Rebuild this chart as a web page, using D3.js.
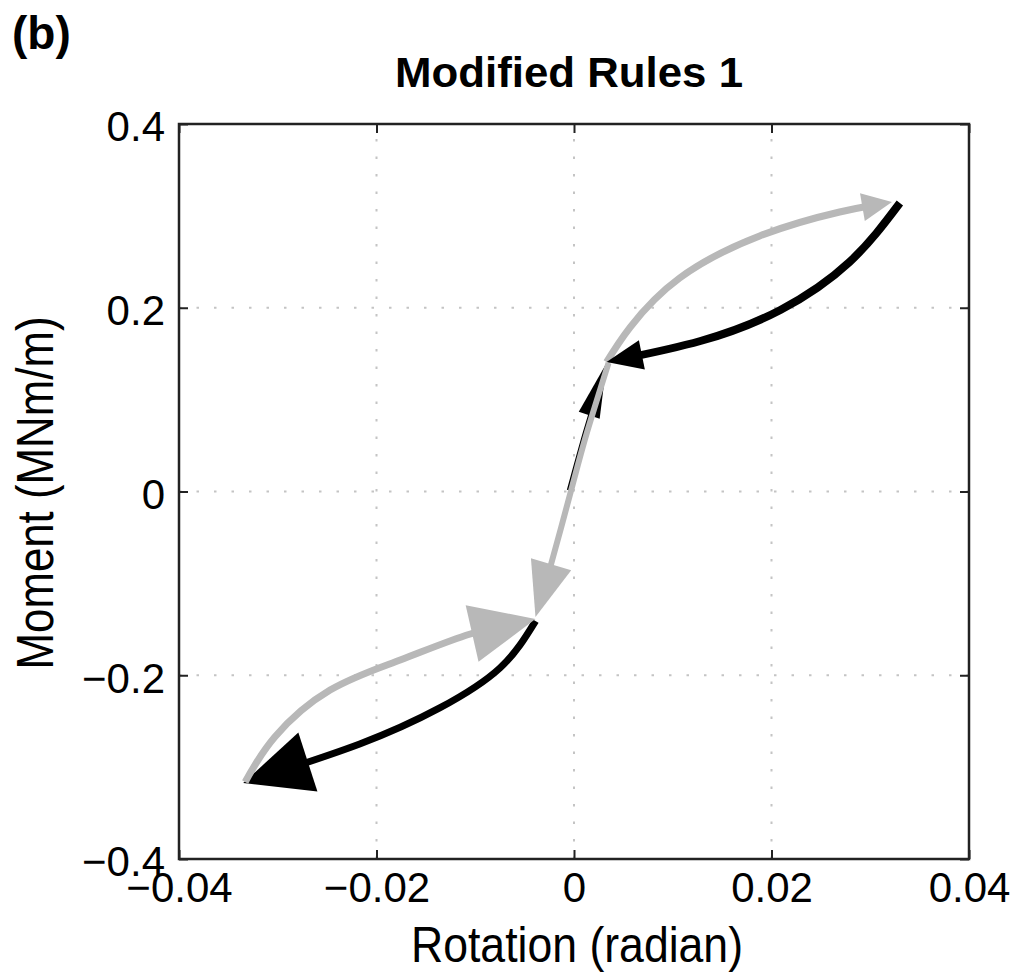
<!DOCTYPE html>
<html>
<head>
<meta charset="utf-8">
<script src="https://cdn.jsdelivr.net/npm/d3@7"></script>
<style>
  html, body { margin: 0; padding: 0; background: #fff; }
  svg { display: block; font-family: "Liberation Sans", Arial, Helvetica, sans-serif; }
</style>
</head>
<body>
<svg id="chart" width="1016" height="979"></svg>
<script>
// Axis ticks and labels
const xTicks = [-0.04, -0.02, 0, 0.02, 0.04];
const xTickLabels = ["\u22120.04", "\u22120.02", "0", "0.02", "0.04"];
const yTicks = [-0.4, -0.2, 0, 0.2, 0.4];
const yTickLabels = ["\u22120.4", "\u22120.2", "0", "0.2", "0.4"];
const xGrid = [-0.02, 0, 0.02];
const yGrid = [-0.2, 0, 0.2];

// Loading path segments: [rotation (radian), moment (MNm/m)]
const segOriginToYield = [[-0.0006, 0.0016], [0.0010, 0.0637], [0.0022, 0.105], [0.0033, 0.1399]];
const segYieldToPeakPos = [[0.0033, 0.1409], [0.0057, 0.1790], [0.0107, 0.2324], [0.0188, 0.2781],
  [0.0269, 0.3042], [0.0322, 0.3151]];
const segPeakPosToYield = [[0.0330, 0.3140], [0.0279, 0.2498], [0.0209, 0.1976], [0.0128, 0.1638], [0.0033, 0.1409]];
const segYieldToYieldNeg = [[0.0035, 0.1399], [0.0013, 0.0637], [-0.0002, 0.0049], [-0.0024, -0.0822], [-0.0039, -0.1366]];
const segYieldNegToPeakNeg = [[-0.0039, -0.1410], [-0.0075, -0.1921], [-0.0136, -0.2356], [-0.0217, -0.2748],
  [-0.0335, -0.3173]];
const segPeakNegToYieldNeg = [[-0.0333, -0.3162], [-0.0303, -0.2672], [-0.0247, -0.2161], [-0.0176, -0.1834],
  [-0.0105, -0.1551], [-0.0039, -0.1388]];

const BLACK = "#000000", GREY = "#b8b8b8";
// Drawing order and stroke/arrowhead styling for each segment
const arrows = [
  { pts: segOriginToYield,     color: BLACK, width: 2.5, headLen: 55, headW: 22 },
  { pts: segYieldToPeakPos,    color: GREY,  width: 7,   headLen: 30, headW: 28 },
  { pts: segPeakPosToYield,    color: BLACK, width: 8,   headLen: 36, headW: 30 },
  { pts: segYieldToYieldNeg,   color: GREY,  width: 6,   headLen: 55, headW: 42 },
  { pts: segYieldNegToPeakNeg, color: BLACK, width: 7,   headLen: 68, headW: 62 },
  { pts: segPeakNegToYieldNeg, color: GREY,  width: 7,   headLen: 65, headW: 58 }
];

const svg = d3.select("#chart");
const L = 179, R = 969, T = 124, B = 859;
const x = d3.scaleLinear().domain([-0.04, 0.04]).range([L, R]);
const y = d3.scaleLinear().domain([-0.4, 0.4]).range([B, T]);

svg.append("rect").attr("width", 1016).attr("height", 979).attr("fill", "#fff");

// dotted grid
const grid = svg.append("g").attr("stroke", "#c4c4c4").attr("stroke-width", 2)
  .attr("stroke-dasharray", "2.5,15");
grid.selectAll("line.gx").data(xGrid).join("line").attr("class", "gx")
  .attr("x1", d => x(d)).attr("x2", d => x(d)).attr("y1", B).attr("y2", T);
grid.selectAll("line.gy").data(yGrid).join("line").attr("class", "gy")
  .attr("y1", d => y(d)).attr("y2", d => y(d)).attr("x1", L).attr("x2", R);

// axes with inward ticks
const fmtX = d => xTickLabels[xTicks.indexOf(d)];
const fmtY = d => yTickLabels[yTicks.indexOf(d)];
function styleAxis(g) {
  g.select(".domain").remove();
  g.selectAll(".tick line").attr("stroke", "#222").attr("stroke-width", 2);
  g.selectAll(".tick text").attr("fill", "#000").attr("font-size", 42)
    .attr("font-family", "Liberation Sans, Arial, sans-serif");
}
svg.append("g").attr("transform", `translate(0,${B})`)
  .call(d3.axisBottom(x).tickValues(xTicks).tickFormat(fmtX).tickSize(-9).tickPadding(13))
  .call(styleAxis);
svg.append("g").attr("transform", `translate(0,${T})`)
  .call(d3.axisTop(x).tickValues(xTicks).tickFormat("").tickSize(-9))
  .call(styleAxis);
svg.append("g").attr("transform", `translate(${L},0)`)
  .call(d3.axisLeft(y).tickValues(yTicks).tickFormat(fmtY).tickSize(-9).tickPadding(14))
  .call(styleAxis)
  .selectAll(".tick text").attr("dy", "0.4em");
svg.append("g").attr("transform", `translate(${R},0)`)
  .call(d3.axisRight(y).tickValues(yTicks).tickFormat("").tickSize(-9))
  .call(styleAxis);

// arrows
const line = d3.line().x(d => x(d[0])).y(d => y(d[1])).curve(d3.curveNatural);
const arrowLayer = svg.append("g");
arrows.forEach(a => {
  const path = arrowLayer.append("path")
    .attr("d", line(a.pts))
    .attr("fill", "none")
    .attr("stroke", a.color)
    .attr("stroke-width", a.width);
  const node = path.node();
  const total = node.getTotalLength();
  const tip = node.getPointAtLength(total);
  const back = node.getPointAtLength(Math.max(0, total - a.headLen));
  let dx = tip.x - back.x, dy = tip.y - back.y;
  const n = Math.hypot(dx, dy) || 1; dx /= n; dy /= n;
  const bx = tip.x - dx * a.headLen, by = tip.y - dy * a.headLen;
  const px = -dy * a.headW / 2, py = dx * a.headW / 2;
  const trim = a.headLen * 0.6;
  path.attr("stroke-dasharray", `${Math.max(0, total - trim)} ${total + 10}`);
  arrowLayer.append("path")
    .attr("d", `M${tip.x},${tip.y}L${bx + px},${by + py}L${bx - px},${by - py}Z`)
    .attr("fill", a.color);
});

// frame
svg.append("rect").attr("x", L).attr("y", T).attr("width", R - L).attr("height", B - T)
  .attr("fill", "none").attr("stroke", "#222").attr("stroke-width", 2.5);

// titles and labels
svg.append("text").attr("x", 12).attr("y", 49).attr("font-size", 46).attr("font-weight", "bold")
  .text("(b)");
svg.append("text").attr("x", 569).attr("y", 87).attr("text-anchor", "middle")
  .attr("font-size", 42).attr("font-weight", "bold")
  .attr("textLength", 348).attr("lengthAdjust", "spacingAndGlyphs")
  .text("Modified Rules 1");
svg.append("text").attr("x", 577).attr("y", 962).attr("text-anchor", "middle")
  .attr("font-size", 50).attr("textLength", 332).attr("lengthAdjust", "spacingAndGlyphs")
  .text("Rotation (radian)");
svg.append("text").attr("transform", "translate(53,493) rotate(-90)").attr("text-anchor", "middle")
  .attr("font-size", 52).attr("textLength", 353).attr("lengthAdjust", "spacingAndGlyphs")
  .text("Moment (MNm/m)");
</script>
</body>
</html>
